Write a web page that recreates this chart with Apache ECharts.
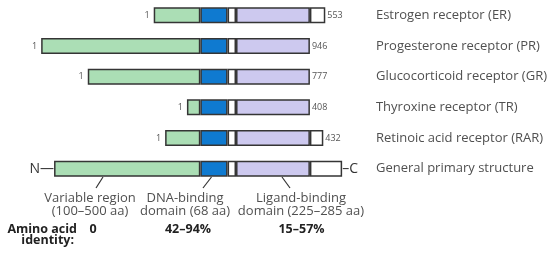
<!DOCTYPE html>
<html>
<head>
<meta charset="utf-8">
<script src="https://cdn.jsdelivr.net/npm/echarts@6/dist/echarts.min.js"></script>
<style>
  html, body { margin: 0; padding: 0; background: #fff; }
  #chart { width: 550px; height: 256px; }
</style>
</head>
<body>
<div id="chart"></div>
<script>
// receptors, top to bottom
const categories = [
    'Estrogen receptor (ER)',
    'Progesterone receptor (PR)',
    'Glucocorticoid receptor (GR)',
    'Thyroxine receptor (TR)',
    'Retinoic acid receptor (RAR)',
    'General primary structure',
];
const totalLength = ['553', '946', '777', '408', '432', null];

// segment lengths in schematic units
const variableLen = [47, 160.5, 113.5, 13.5, 35.5, 147.5];
const dnaLen = [27.5, 27.5, 27.5, 27.5, 27.5, 27.5];
const hingeLen = [8.5, 8.5, 8.5, 8.5, 8.5, 8.5];
const ligandLen = [74.5, 74.5, 74.5, 74.5, 74.5, 74.5];
const tailLen = [15.5, 0, 0, 0, 13.5, 32.5];

// every receptor is aligned on the start of the DNA-binding domain
const dnaStart = 202;

const domainNotes = [
    ['Variable region', '(100–500 aa)'],
    ['DNA-binding', 'domain (68 aa)'],
    ['Ligand-binding', 'domain (225–285 aa)'],
];
const identity = ['0', '42–94%', '15–57%'];

const FONT = '"Open Sans", "Liberation Sans", Arial, sans-serif';
const EDGE = '#353535';
const TEXT = '#505050';
const lastRow = categories.length - 1;

const offset = variableLen.map(v => dnaStart - v);

const startLabel = {
    show: true, position: 'left', distance: 4,
    fontFamily: FONT, fontSize: 9, color: '#555',
    formatter: '1',
};
const endLabel = (i) => ({
    show: true, position: 'right', distance: 2,
    fontFamily: FONT, fontSize: 9, color: '#555',
    formatter: totalLength[i],
});

const variableData = variableLen.map((v, i) => ({
    value: v,
    label: i === lastRow
        ? { show: true, position: 'left', distance: 0, fontFamily: FONT, fontSize: 14, color: '#333', formatter: 'N\u2014' }
        : startLabel,
}));
const ligandData = ligandLen.map((v, i) => ({
    value: v,
    label: tailLen[i] === 0 ? endLabel(i) : { show: false },
}));
const tailData = tailLen.map((v, i) => {
    if (v === 0) return '-';
    if (i === lastRow) {
        return { value: v, label: { show: true, position: 'right', distance: 0, fontFamily: FONT, fontSize: 14, color: '#333', formatter: '\u2013C' } };
    }
    return { value: v, label: endLabel(i) };
});

const seg = (name, data, color) => ({
    name, type: 'bar', stack: 'r', data,
    barWidth: 16,
    itemStyle: { color, borderColor: EDGE, borderWidth: 1.5 },
    emphasis: { disabled: true },
});

const textStyle = (text, x, y, opt = {}) => ({
    type: 'text', x, y,
    style: Object.assign({
        text, fill: TEXT,
        font: '13px ' + FONT,
        align: 'center', verticalAlign: 'middle',
    }, opt),
});
const leader = (x1, y1, x2, y2) => ({
    type: 'line',
    shape: { x1, y1, x2, y2 },
    style: { stroke: '#333', lineWidth: 1.2 },
});

const noteX = [90, 185, 301];
const graphic = [
    leader(103, 177, 96, 188),
    leader(211.5, 177, 203, 188),
    leader(282, 177, 290, 188),
];
domainNotes.forEach((lines, k) => {
    graphic.push(textStyle(lines[0], noteX[k], 198.5));
    graphic.push(textStyle(lines[1], noteX[k], 211));
});
graphic.push(textStyle('Amino acid', 77, 229, { align: 'right', fill: '#222', font: 'bold 12.5px ' + FONT }));
graphic.push(textStyle('identity:', 74, 240.5, { align: 'right', fill: '#222', font: 'bold 12.5px ' + FONT }));
const identityX = [93, 188, 301.5];
identity.forEach((t, k) => {
    graphic.push(textStyle(t, identityX[k], 229, { fill: '#222', font: 'bold 12.5px ' + FONT }));
});

const chart = echarts.init(document.getElementById('chart'));
chart.setOption({
    animation: false,
    backgroundColor: '#fff',
    grid: { left: 0, top: -2, width: 370, height: 186 },
    xAxis: { type: 'value', min: 0, max: 370, show: false },
    yAxis: {
        type: 'category', data: categories, inverse: true, position: 'right',
        axisLine: { show: false }, axisTick: { show: false }, splitLine: { show: false },
        axisLabel: { margin: 9, align: 'left', fontFamily: FONT, fontSize: 13, color: TEXT },
    },
    series: [
        {
            name: 'offset', type: 'bar', stack: 'r', data: offset, barWidth: 16,
            itemStyle: { color: 'transparent' }, silent: true,
        },
        seg('Variable region', variableData, '#abdeb5'),
        seg('DNA-binding domain', dnaLen, '#0f7ad0'),
        seg('Hinge', hingeLen, '#ffffff'),
        seg('Ligand-binding domain', ligandData, '#cdc9ef'),
        seg('C-terminal', tailData, '#ffffff'),
    ],
    graphic,
});
</script>
</body>
</html>
